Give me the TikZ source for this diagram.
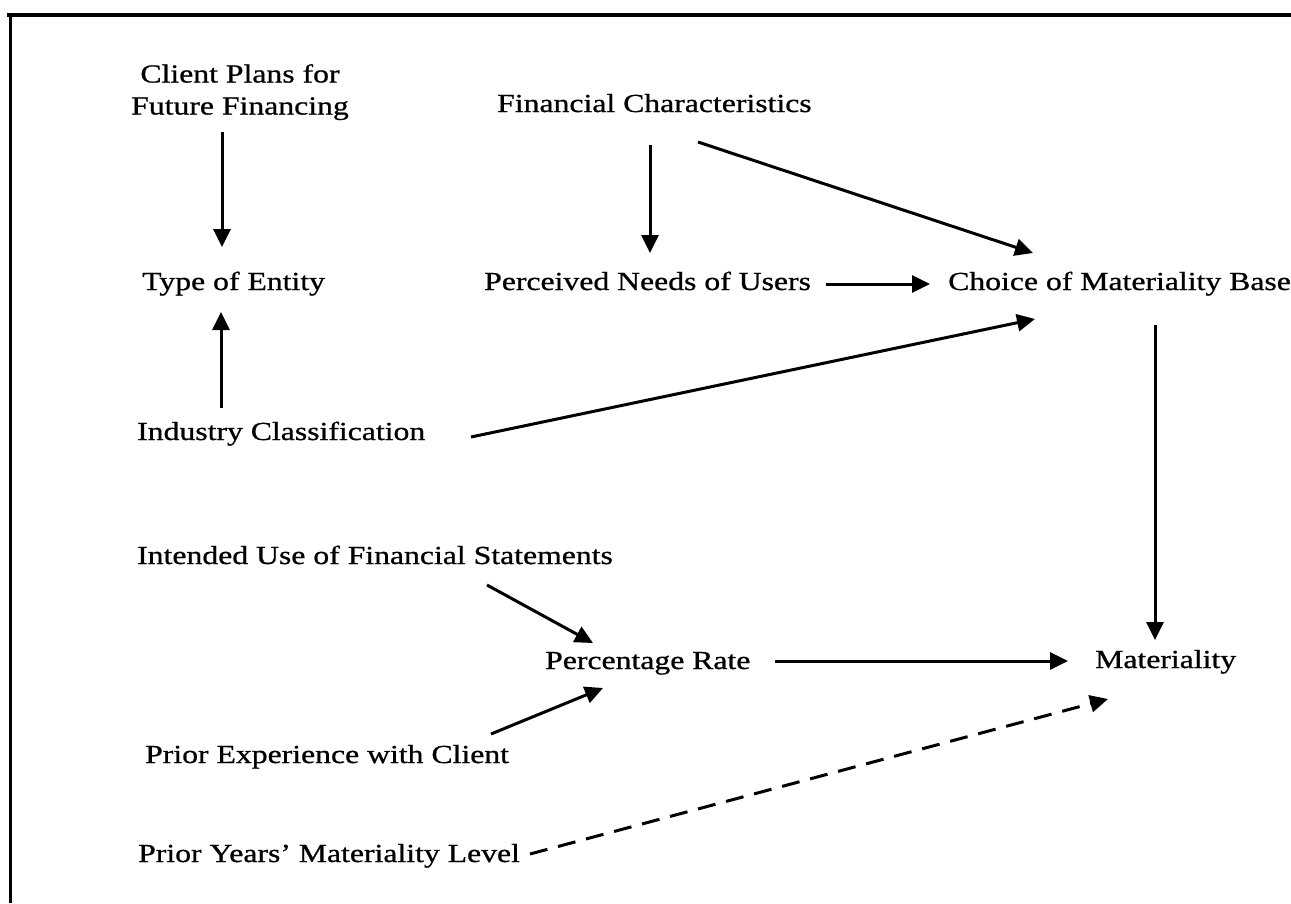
\documentclass[tikz,border=0pt]{standalone}
\usepackage{fontspec}
\setmainfont{Liberation Serif}[FakeStretch=1.22,FakeBold=0.8]
\usetikzlibrary{arrows.meta,calc}
\begin{document}
\begin{tikzpicture}[x=1pt,y=-1pt,
  lbl/.style={inner sep=0pt,anchor=base west,font=\fontsize{26}{32}\selectfont},
  arr/.style={line width=3pt,-{Triangle[length=18pt,width=17pt]}},
  darr/.style={arr,dash pattern=on 18pt off 11pt}]
\useasboundingbox (0,0) rectangle (1291,903);
\fill[white] (0,0) rectangle (1291,903);
% frame (top and left edges)
\draw[line width=4pt] (7,15) -- (1291,15);
\draw[line width=3pt] (10,13) -- (10,903);
% labels
\node[lbl,anchor=north,align=center] (cp) at (240,64) {Client Plans for\\Future Financing};
\node[lbl] (fc) at (497,112) {Financial Characteristics};
\node[lbl] (te) at (142,290) {Type of Entity};
\node[lbl] (pn) at (484,290) {Perceived Needs of Users};
\node[lbl] (ch) at (948,290) {Choice of Materiality Base};
\node[lbl] (ic) at (137,440) {Industry Classification};
\node[lbl] (iu) at (137,564) {Intended Use of Financial Statements};
\node[lbl] (pr) at (545,669) {Percentage Rate};
\node[lbl] (ma) at (1095,668) {Materiality};
\node[lbl] (pe) at (145,763) {Prior Experience with Client};
\node[lbl] (py) at (138,862) {Prior Years' Materiality Level};
% connectors
\draw[arr] ($(cp.north)+(-18,68)$) -- ($(te.base west)+(80,-43)$);
\draw[arr] ($(ic.base west)+(84,-32)$) -- ($(te.base west)+(79,22)$);
\draw[arr] ($(fc.base west)+(153,33)$) -- ($(pn.base west)+(166,-37)$);
\draw[arr] ($(fc.base west)+(201,30)$) -- ($(ch.base west)+(85,-37)$);
\draw[arr] ($(pn.base west)+(342,-6)$) -- ($(ch.base west)+(-18,-6)$);
\draw[arr] ($(ic.base west)+(334,-3)$) -- ($(ch.base west)+(87,29)$);
\draw[arr] ($(ch.base west)+(207,35)$) -- ($(ma.base west)+(60,-28)$);
\draw[arr] ($(iu.base west)+(350,21)$) -- ($(pr.base west)+(48,-26)$);
\draw[arr] ($(pe.base west)+(346,-29)$) -- ($(pr.base west)+(58,19)$);
\draw[arr] ($(pr.base west)+(230,-8)$) -- ($(ma.base west)+(-27,-7)$);
\draw[darr] ($(py.base west)+(392,-8)$) -- ($(ma.base west)+(13,31)$);
\end{tikzpicture}
\end{document}
